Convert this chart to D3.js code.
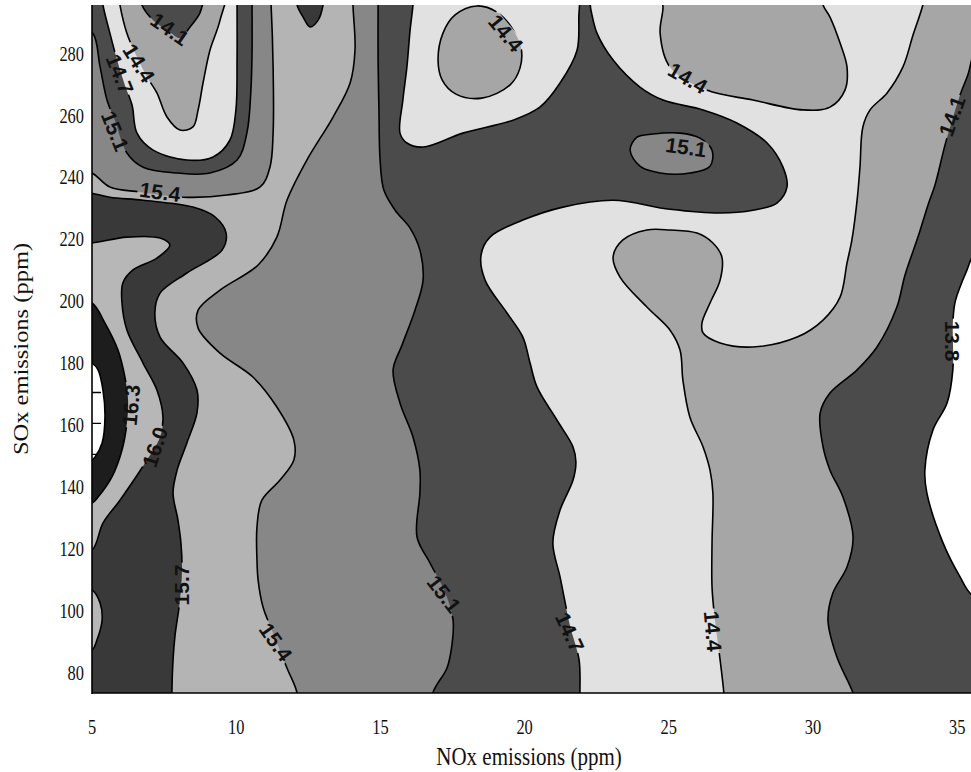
<!DOCTYPE html>
<html>
<head>
<meta charset="utf-8">
<script src="https://cdn.jsdelivr.net/npm/d3@7"></script>
<style>
  body { margin: 0; background: #fff; }
  .tick-label, .title { font-family: "Liberation Serif", "Times New Roman", serif; fill: #111; }
  .clab { font-family: "Liberation Sans", Arial, sans-serif; font-weight: bold; fill: #111; }
</style>
</head>
<body>
<svg id="chart" width="971" height="772"></svg>
<script>
// contour levels; each band is filled with the grey listed for the level below it
const levels = [13.8, 14.1, 14.4, 14.7, 15.1, 15.4, 15.7, 16.0, 16.3, 16.6];
const xTicks = [5, 10, 15, 20, 25, 30, 35];
const yTicks = [80, 100, 120, 140, 160, 180, 200, 220, 240, 260, 280];
const yMinorTicks = [80, 90, 100, 110, 120, 130, 140, 150, 160, 170, 180, 190, 200, 210, 220, 230, 240, 250, 260, 270, 280, 290];

// contour rings as [NOx, SOx];
// points lying past the frame only close a ring outside the plot
const c138_right = [[35.65,215.4],[35.31,208.9],[35.10,204.1],[34.92,198.9],[34.85,192.4],[34.85,177.3],[34.65,166.6],[34.16,157.9],[33.88,144.9],[33.95,137.5],[34.51,121.4],[35.10,110.4],[35.51,104.6],[36.14,102.9],[36.14,216.0]];

const c141_right = [[35.65,280.6],[35.37,272.6],[35.10,266.1],[34.85,258.7],[34.58,250.0],[34.23,237.0],[33.99,230.6],[33.64,220.2],[33.19,207.9],[32.91,197.6],[32.22,184.7],[31.53,177.3],[30.59,169.8],[30.25,163.4],[30.35,152.4],[30.59,144.9],[31.04,136.2],[31.39,123.3],[31.18,113.6],[30.69,105.2],[30.52,96.5],[30.83,84.5],[31.39,72.9],[31.56,66.1],[36.14,66.1],[36.14,282.3]];
const c141_cup = [[6.63,300.7],[6.73,295.2],[7.12,290.3],[7.70,286.5],[8.05,284.5],[8.40,288.1],[8.74,292.6],[8.88,297.4],[8.95,300.7]];

const c144_right = [[33.92,300.7],[33.81,295.2],[33.47,285.5],[33.12,275.2],[32.57,266.8],[31.98,261.3],[31.73,255.8],[31.63,242.8],[31.53,232.1],[31.35,219.3],[31.18,211.8],[30.94,200.8],[30.35,193.4],[29.45,187.9],[27.92,184.7],[26.78,186.0],[26.19,189.2],[26.15,192.4],[26.43,198.9],[26.78,206.3],[26.84,213.8],[26.53,218.3],[25.98,221.5],[25.04,222.5],[24.24,222.5],[23.41,219.3],[23.07,213.8],[23.31,207.3],[24.24,197.6],[25.04,190.2],[25.39,183.7],[25.49,174.0],[25.73,162.1],[26.19,152.4],[26.43,144.9],[26.53,137.5],[26.50,121.4],[26.50,107.1],[26.60,96.5],[26.78,83.6],[26.91,72.9],[26.95,66.1],[36.14,66.1],[36.14,300.7]];
const c144_oval = [[17.00,277.4],[17.17,286.1],[17.59,292.0],[18.35,294.9],[19.04,292.9],[19.56,287.8],[19.88,281.3],[19.84,274.8],[19.49,269.3],[18.52,265.1],[17.62,266.4],[17.14,271.0]];
const c144_top = [[24.73,300.7],[24.80,294.5],[24.70,286.1],[25.04,275.2],[26.32,267.7],[27.92,264.5],[29.65,261.3],[30.59,262.2],[31.11,267.7],[31.18,275.2],[30.94,282.9],[30.59,291.3],[30.35,295.2],[30.28,300.7]];
const c144_cup = [[5.90,300.7],[5.97,295.2],[6.21,286.1],[6.56,278.4],[6.91,271.9],[7.25,266.8],[7.60,259.0],[8.05,254.8],[8.50,255.8],[8.68,261.3],[8.85,270.0],[9.09,280.6],[9.44,290.3],[9.58,300.7]];

const c147_main = [[4.41,301.6],[4.41,66.1],[21.92,66.1],[21.92,72.9],[21.89,83.6],[21.57,94.9],[21.23,110.4],[20.98,121.4],[21.23,132.0],[21.68,141.7],[21.78,147.5],[21.68,152.4],[21.12,161.1],[20.43,171.8],[20.19,179.5],[19.94,187.9],[19.39,195.7],[18.63,206.3],[18.49,214.4],[18.80,220.2],[19.94,225.7],[21.33,229.9],[23.07,232.1],[25.04,229.2],[26.78,228.0],[27.92,228.9],[28.75,231.2],[29.10,236.4],[28.96,242.8],[28.41,250.6],[27.36,257.1],[26.19,261.3],[24.80,264.5],[24.00,268.7],[23.07,277.4],[22.51,286.1],[22.30,293.6],[22.23,296.8],[21.96,296.8],[21.89,292.9],[21.82,280.6],[21.23,270.0],[20.53,262.2],[19.60,258.0],[17.86,253.8],[16.48,249.3],[15.92,250.6],[15.68,253.8],[15.78,264.5],[15.92,275.2],[16.03,287.1],[16.13,295.2],[16.16,301.6]];
const c147_cup = [[5.31,300.7],[5.38,295.2],[5.62,286.1],[5.87,277.4],[6.14,269.3],[6.39,262.8],[6.56,253.8],[7.12,248.3],[8.29,245.1],[9.20,246.1],[9.78,251.5],[9.99,261.3],[10.03,277.4],[10.03,295.2],[10.03,300.7]];

const c151_main = [[4.41,301.6],[4.41,66.1],[16.82,66.1],[16.82,72.9],[17.31,81.0],[17.48,88.4],[17.52,96.5],[17.24,105.5],[16.72,114.9],[16.27,123.3],[16.37,137.5],[16.37,144.9],[16.13,155.6],[15.68,166.6],[15.44,177.3],[15.75,185.3],[16.20,196.6],[16.48,206.3],[16.37,216.0],[16.03,223.1],[15.51,228.9],[15.12,235.4],[14.99,245.1],[14.95,261.3],[14.92,277.4],[14.92,295.2],[14.92,301.6]];
const c151_cup = [[4.51,288.7],[5.03,286.1],[5.28,275.2],[5.52,264.5],[5.80,257.8],[6.21,247.4],[6.77,242.8],[7.95,240.9],[9.09,240.9],[10.03,245.1],[10.37,253.8],[10.51,267.7],[10.55,280.6],[10.55,295.2],[10.55,300.7],[4.51,300.7]];
const c151_isle = [[23.66,248.3],[23.90,252.5],[24.45,253.5],[25.39,253.8],[26.08,252.2],[26.50,248.3],[26.43,243.1],[25.74,240.9],[24.70,240.9],[24.00,243.1]];

const c154_main = [[4.41,301.6],[4.41,66.1],[12.11,66.1],[12.11,72.9],[11.76,81.0],[11.24,93.2],[10.93,100.7],[10.76,109.4],[10.72,115.9],[10.72,126.5],[10.89,135.2],[11.52,141.7],[12.00,148.2],[12.00,154.6],[11.41,165.3],[10.58,175.0],[9.44,182.7],[8.68,190.8],[8.68,196.6],[9.44,203.1],[10.76,211.2],[11.41,220.2],[11.76,232.1],[12.45,245.1],[13.36,259.0],[13.95,270.0],[14.12,280.6],[14.05,295.2],[14.05,301.6]];
const c154_cup = [[4.51,241.8],[5.00,240.9],[5.62,236.4],[6.66,234.8],[8.16,233.1],[9.68,233.8],[10.83,236.4],[11.17,242.8],[11.28,253.8],[11.28,275.2],[11.21,295.2],[11.17,300.7],[4.51,300.7]];

const c157_main = [[4.41,235.4],[5.00,234.4],[5.62,233.1],[6.77,232.1],[8.50,229.9],[9.27,226.7],[9.65,221.5],[9.51,216.0],[8.29,208.6],[7.36,202.1],[7.18,195.7],[7.36,187.9],[8.16,179.5],[8.64,170.8],[8.64,163.4],[8.29,153.7],[7.95,144.9],[7.81,137.5],[7.98,128.8],[8.09,120.7],[8.12,112.6],[8.05,102.9],[7.88,91.6],[7.81,83.6],[7.77,72.9],[7.77,66.1],[4.41,66.1]];
const c157_top = [[12.07,300.7],[12.11,295.2],[12.32,291.3],[12.56,288.1],[12.84,290.3],[13.01,295.2],[13.04,300.7]];

const c160_main = [[4.41,218.3],[5.00,218.3],[6.21,220.2],[7.36,219.9],[7.70,217.6],[7.25,213.4],[6.42,209.6],[6.07,205.4],[6.04,198.9],[6.21,190.2],[6.77,179.5],[7.25,170.8],[7.46,162.1],[7.36,155.6],[6.84,147.2],[5.97,135.2],[5.38,127.8],[5.00,119.1],[4.41,118.4]];
const c160_bump = [[4.41,106.8],[5.00,106.2],[5.28,102.0],[5.35,96.5],[5.17,90.0],[5.00,86.8],[4.41,86.1]];

const c163_main = [[4.41,199.9],[5.00,198.9],[5.45,192.4],[5.90,183.7],[6.14,175.0],[6.25,167.6],[6.21,160.1],[6.04,151.4],[5.69,142.7],[5.21,136.2],[5.00,134.3],[4.41,133.3]];
const c166_main = [[4.41,180.5],[5.00,179.5],[5.21,177.3],[5.38,170.8],[5.45,162.1],[5.35,153.7],[5.10,149.1],[5.00,148.2],[4.41,147.5]];

// superlevel sets: "full" ones are the whole frame with the rings cut out
const bands = [
  { level: 13.8, full: true, rings: [c138_right] },
  { level: 14.1, full: true, rings: [c141_right, c141_cup] },
  { level: 14.4, full: true, rings: [c144_right, c144_oval, c144_top, c144_cup] },
  { level: 14.7, full: false, rings: [c147_main, c147_cup] },
  { level: 15.1, full: false, rings: [c151_main, c151_cup, c151_isle] },
  { level: 15.4, full: false, rings: [c154_main, c154_cup] },
  { level: 15.7, full: false, rings: [c157_main, c157_top] },
  { level: 16.0, full: false, rings: [c160_main, c160_bump] },
  { level: 16.3, full: false, rings: [c163_main] },
  { level: 16.6, full: false, rings: [c166_main] }
];

// in-line contour labels [text, NOx, SOx, angle]
const contourLabels = [
  ["14.1", 7.70, 287.4, 35], ["14.4", 6.63, 276.4, 58], ["14.7", 5.97, 272.9, 68],
  ["15.1", 5.80, 254.5, 68], ["15.4", 7.36, 234.8, 8], ["14.4", 19.35, 286.1, 50],
  ["14.4", 25.66, 271.6, 30], ["15.1", 25.60, 249.3, 8], ["14.1", 34.82, 259.3, -70],
  ["13.8", 34.85, 186.6, 90], ["16.3", 6.35, 165.9, -85], ["16.0", 7.18, 152.4, -72],
  ["15.7", 8.12, 107.8, -90], ["15.4", 11.38, 89.4, 55], ["15.1", 17.21, 104.9, 52],
  ["14.7", 21.57, 92.6, 65], ["14.4", 26.53, 92.9, 85]
];

const bandColor = {
  13.8: "#4b4b4b", 14.1: "#a6a6a6", 14.4: "#e1e1e1", 14.7: "#4b4b4b", 15.1: "#878787",
  15.4: "#b4b4b4", 15.7: "#393939", 16.0: "#b7b7b7", 16.3: "#1d1d1d", 16.6: "#ffffff"
};

const svg = d3.select("#chart");
const plotL = 92, plotR = 971, plotT = 5, plotB = 693;

const x = d3.scaleLinear().domain([5, 35.48]).range([plotL, plotR]);
const y = d3.scaleLinear().domain([72.9, 295.2]).range([plotB, plotT]);

const ringPath = d3.line()
  .x(d => x(d[0]))
  .y(d => y(d[1]))
  .curve(d3.curveCatmullRomClosed.alpha(0.5));

// frame for the full sets, a little outside the plot
const frame = `M${x(3.9)},${y(62)}L${x(36.6)},${y(62)}L${x(36.6)},${y(306)}L${x(3.9)},${y(306)}Z`;

const defs = svg.append("defs");
defs.append("clipPath").attr("id", "plot-clip")
  .append("rect").attr("x", plotL).attr("y", plotT).attr("width", plotR - plotL).attr("height", plotB - plotT);

svg.append("rect").attr("width", 971).attr("height", 772).attr("fill", "#fff");

// filled bands
const fills = svg.append("g").attr("clip-path", "url(#plot-clip)");
bands.forEach(b => {
  fills.append("path")
    .attr("d", (b.full ? frame : "") + b.rings.map(r => ringPath(r)).join(""))
    .attr("fill", bandColor[b.level])
    .attr("fill-rule", "evenodd");
});

// axis ticks only show where nothing is filled (the top band)
defs.append("clipPath").attr("id", "top-clip")
  .append("path").attr("d", ringPath(c166_main));
const tickG = svg.append("g").attr("clip-path", "url(#top-clip)");
tickG.selectAll("line").data(yMinorTicks).join("line")
  .attr("x1", plotL).attr("x2", plotL + 9)
  .attr("y1", d => y(d)).attr("y2", d => y(d))
  .attr("stroke", "#000").attr("stroke-width", 1.3);

// labels first so the lines can be broken under them
const labelG = svg.append("g");
const labs = labelG.selectAll("text").data(contourLabels).join("text")
  .attr("class", "clab")
  .attr("font-size", 21)
  .attr("text-anchor", "middle")
  .attr("dominant-baseline", "central")
  .attr("transform", d => `translate(${x(d[1])},${y(d[2])}) rotate(${d[3]})`)
  .text(d => d[0]);

const mask = defs.append("mask").attr("id", "gaps")
  .attr("maskUnits", "userSpaceOnUse")
  .attr("x", 0).attr("y", 0).attr("width", 971).attr("height", 772);
mask.append("rect").attr("width", 971).attr("height", 772).attr("fill", "#fff");
labs.each(function(d) {
  const w = this.getComputedTextLength() + 4;
  mask.append("rect")
    .attr("x", -w / 2).attr("y", -8).attr("width", w).attr("height", 16)
    .attr("transform", `translate(${x(d[1])},${y(d[2])}) rotate(${d[3]})`)
    .attr("fill", "#000");
});

const lines = svg.insert("g", () => labelG.node())
  .attr("clip-path", "url(#plot-clip)")
  .append("g").attr("mask", "url(#gaps)");
bands.forEach(b => {
  lines.append("path")
    .attr("d", b.rings.map(r => ringPath(r)).join(""))
    .attr("fill", "none")
    .attr("stroke", "#000")
    .attr("stroke-width", 1.6);
});

// axis lines
svg.append("line").attr("x1", plotL).attr("x2", plotL).attr("y1", plotT).attr("y2", plotB + 1)
  .attr("stroke", "#000").attr("stroke-width", 1.6);
svg.append("line").attr("x1", plotL).attr("x2", plotR).attr("y1", plotB).attr("y2", plotB)
  .attr("stroke", "#000").attr("stroke-width", 1.6);

// tick labels (the original is squeezed sideways)
svg.append("g").selectAll("text").data(yTicks).join("text")
  .attr("class", "tick-label")
  .attr("font-size", 20)
  .attr("text-anchor", "end")
  .attr("dominant-baseline", "central")
  .attr("transform", d => `translate(84,${y(d) + 2}) scale(0.82,1)`)
  .text(d => d);

svg.append("g").selectAll("text").data(xTicks).join("text")
  .attr("class", "tick-label")
  .attr("font-size", 20)
  .attr("text-anchor", "middle")
  .attr("dominant-baseline", "central")
  .attr("transform", d => `translate(${x(d)},727) scale(0.82,1)`)
  .text(d => d);

// axis titles
svg.append("text").attr("class", "title")
  .attr("font-size", 25)
  .attr("text-anchor", "middle")
  .attr("transform", "translate(529,765) scale(0.84,1)")
  .text("NOx emissions (ppm)");

svg.append("text").attr("class", "title")
  .attr("font-size", 25)
  .attr("text-anchor", "middle")
  .attr("dominant-baseline", "central")
  .attr("transform", "translate(21,349) rotate(-90) scale(0.98,0.86)")
  .text("SOx emissions (ppm)");
</script>
</body>
</html>
